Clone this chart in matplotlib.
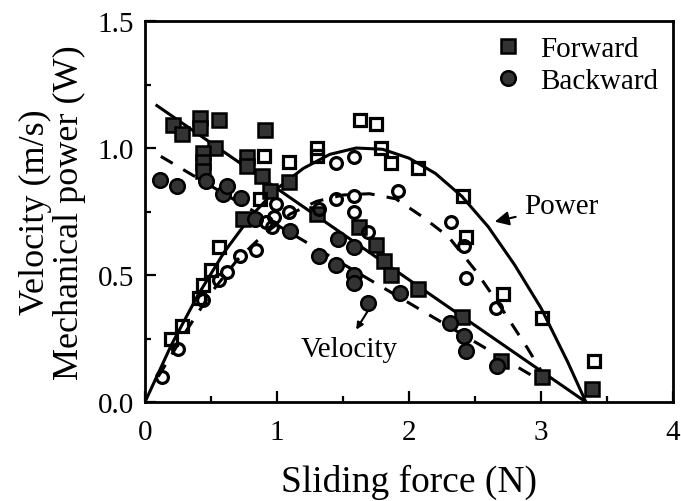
import numpy as np
import matplotlib
matplotlib.use("Agg")
from matplotlib import pyplot as plt
from matplotlib.ticker import MultipleLocator, FormatStrFormatter

plt.rcParams['font.family'] = ['Liberation Serif', 'DejaVu Serif']

# velocity data (filled markers)
fwd_force = [0.21, 0.28, 0.42, 0.42, 0.56, 0.53, 0.44, 0.44, 0.44, 0.77, 0.77, 0.91,
             0.89, 0.74, 0.95, 1.09, 1.30, 1.62, 1.75, 1.81, 1.86, 2.07, 2.40, 2.70,
             3.01, 3.39]
fwd_vel = [1.09, 1.055, 1.12, 1.08, 1.11, 1.00, 0.98, 0.945, 0.91, 0.965, 0.93, 1.07,
           0.89, 0.72, 0.83, 0.865, 0.74, 0.69, 0.62, 0.555, 0.50, 0.445, 0.335, 0.16,
           0.10, 0.05]
bwd_force = [0.11, 0.24, 0.46, 0.59, 0.62, 0.73, 0.83, 1.10, 1.32, 1.46, 1.58, 1.45,
             1.58, 1.58, 1.69, 1.93, 2.31, 2.42, 2.43, 2.67]
bwd_vel = [0.875, 0.85, 0.87, 0.82, 0.85, 0.805, 0.72, 0.675, 0.575, 0.64, 0.61, 0.54,
           0.50, 0.47, 0.39, 0.43, 0.31, 0.26, 0.20, 0.14]

# mechanical power data (open markers)
pf_force = [0.20, 0.28, 0.41, 0.44, 0.50, 0.56, 0.87, 0.90, 1.09, 1.30, 1.30, 1.63,
            1.75, 1.79, 1.86, 2.07, 2.41, 2.43, 2.71, 3.01, 3.40]
pf_power = [0.25, 0.30, 0.41, 0.46, 0.52, 0.61, 0.80, 0.97, 0.945, 1.00, 0.97, 1.11,
            1.095, 1.00, 0.94, 0.92, 0.81, 0.65, 0.425, 0.33, 0.16]
pb_force = [0.13, 0.25, 0.44, 0.56, 0.62, 0.72, 0.84, 0.92, 0.96, 0.99, 0.98, 1.09,
            1.32, 1.45, 1.45, 1.58, 1.58, 1.58, 1.69, 1.92, 2.32, 2.42, 2.43, 2.66]
pb_power = [0.10, 0.21, 0.40, 0.48, 0.51, 0.575, 0.60, 0.71, 0.69, 0.78, 0.73, 0.75,
            0.76, 0.94, 0.80, 0.965, 0.81, 0.75, 0.67, 0.83, 0.71, 0.615, 0.49, 0.37]

# fitted lines
vf_fit_force = [0.09, 3.34]
vf_fit_vel = [1.167, 0.0]
vb_fit_force = [0.12, 3.0]
vb_fit_vel = [0.967, 0.083]
pf_fit_force = [0.0, 0.2, 0.4, 0.6, 0.8, 1.0, 1.2, 1.4, 1.6, 1.8, 2.0, 2.2, 2.4, 2.6,
                2.8, 3.0, 3.2, 3.34]
pf_fit_power = [0.0, 0.225, 0.42, 0.59, 0.73, 0.84, 0.92, 0.975, 1.0, 0.995, 0.96,
                0.90, 0.81, 0.69, 0.54, 0.37, 0.16, 0.0]
pb_fit_force = [0.1, 0.3, 0.5, 0.7, 0.9, 1.1, 1.3, 1.5, 1.7, 1.9, 2.1, 2.3, 2.5, 2.7,
                2.9, 3.05]
pb_fit_power = [0.10, 0.27, 0.43, 0.56, 0.66, 0.74, 0.79, 0.815, 0.82, 0.80, 0.73,
                0.65, 0.52, 0.37, 0.21, 0.08]

fig = plt.figure(figsize=(6.81, 5.02), dpi=100)
ax = fig.add_axes([145/681, 1 - 403/502, 528/681, 381/502])

lw = 2.2
dash = (0, (4.5, 4))
ax.plot(vf_fit_force, vf_fit_vel, color='k', lw=lw, zorder=2)
ax.plot(vb_fit_force, vb_fit_vel, color='k', lw=lw, linestyle=dash, zorder=2)
ax.plot(pf_fit_force, pf_fit_power, color='k', lw=lw, zorder=2)
ax.plot(pb_fit_force, pb_fit_power, color='k', lw=lw, linestyle=dash, zorder=2)

fill = '#333333'
ax.plot(fwd_force, fwd_vel, 's', ms=10, mfc=fill, mec='k', mew=1.8, zorder=3,
        label='Forward')
ax.plot(bwd_force, bwd_vel, 'o', ms=10.5, mfc=fill, mec='k', mew=1.8, zorder=3,
        label='Backward')
ax.plot(pf_force, pf_power, 's', ms=8.5, mfc='none', mec='k', mew=2.3, zorder=3)
ax.plot(pb_force, pb_power, 'o', ms=8.5, mfc='none', mec='k', mew=2.3, zorder=3)

ax.annotate('Power', xy=(2.65, 0.71), xytext=(2.87, 0.77), fontsize=21,
            va='center', ha='left',
            arrowprops=dict(arrowstyle='-|>', color='k', lw=1.5, shrinkA=4, shrinkB=0))
ax.annotate('Velocity', xy=(1.60, 0.285), xytext=(1.18, 0.21), fontsize=21,
            va='center', ha='left')
ax.annotate('', xy=(1.60, 0.285), xytext=(1.69, 0.36),
            arrowprops=dict(arrowstyle='-|>', color='k', lw=1.5, shrinkA=0, shrinkB=0))

ax.set_xlim(0, 4)
ax.set_ylim(0, 1.5)
ax.xaxis.set_major_locator(MultipleLocator(1))
ax.xaxis.set_minor_locator(MultipleLocator(0.5))
ax.yaxis.set_major_locator(MultipleLocator(0.5))
ax.yaxis.set_minor_locator(MultipleLocator(0.25))
ax.yaxis.set_major_formatter(FormatStrFormatter('%.1f'))
ax.tick_params(which='major', direction='in', length=8, width=1.6, labelsize=21)
ax.tick_params(axis='x', which='major', pad=12)
ax.tick_params(axis='y', which='major', pad=8)
ax.tick_params(which='minor', direction='in', length=4.5, width=1.6)
for s in ax.spines.values():
    s.set_linewidth(2)

ax.set_xlabel('Sliding force (N)', fontsize=27, labelpad=14)
ax.set_ylabel('Velocity (m/s)\nMechanical power (W)', fontsize=26, labelpad=8,
              linespacing=1.05)

ax.legend(loc='upper right', frameon=False, fontsize=21, handletextpad=0.55,
          borderaxespad=0.1, labelspacing=0.2, handlelength=1.1)

fig.savefig('out.png', dpi=100)
